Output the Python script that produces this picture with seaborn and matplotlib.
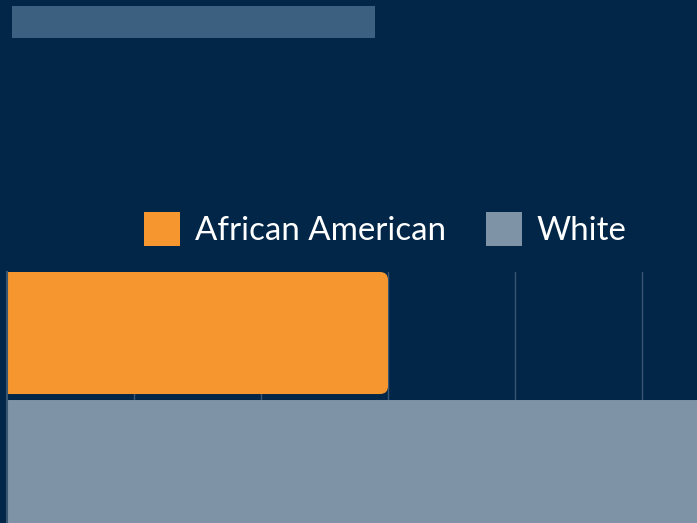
import matplotlib
matplotlib.use('Agg')
import matplotlib.pyplot as plt
import seaborn as sns
import pandas as pd
from matplotlib.patches import FancyBboxPatch, Rectangle

# data (one category, two groups; white bar runs off the right edge)
groups = ['African American', 'White']
values = [30, 60]
category = ['All', 'All']
palette = ['#f5962f', '#7f93a7']

df = pd.DataFrame({'cat': category, 'group': groups, 'value': values})

bg = '#012647'
grid_col = '#3b5673'
sns.set_style('dark', {'axes.facecolor': bg, 'figure.facecolor': bg})
plt.rcParams['font.family'] = ['Lato', 'DejaVu Sans']

fig = plt.figure(figsize=(6.97, 5.23), dpi=100)
ax = fig.add_axes([7 / 697, 0, 690 / 697, 251 / 523])

sns.barplot(data=df, y='cat', x='value', hue='group', palette=palette,
            orient='h', width=0.8, ax=ax, saturation=1)

handles, labels = ax.get_legend_handles_labels()
if ax.get_legend() is not None:
    ax.get_legend().remove()
for h in handles:
    h.set_edgecolor('none')

ax.set_xlim(0, 54.33)
ax.set_ylim(0.403, -0.4)

# swap plain bars for rounded ones, small gap between them
gap = 0.0096
for p in list(ax.patches):
    x, y = p.get_x(), p.get_y()
    w, h = p.get_width(), p.get_height()
    c = p.get_facecolor()
    p.remove()
    if y < 0:
        y0, hh = y, h - gap          # top bar: gap below
    else:
        y0, hh = y + gap, h + 0.05   # bottom bar: gap above, runs off the bottom
    ax.add_patch(FancyBboxPatch(
        (x - 2, y0), w + 2, hh,
        boxstyle='round,pad=0,rounding_size=0.63',
        mutation_aspect=0.0406, facecolor=c, edgecolor='none', zorder=2))

ax.set_xticks([10, 20, 30, 40, 50])
ax.grid(axis='x', color=grid_col, lw=1)
ax.grid(axis='y', visible=False)
ax.set_axisbelow(True)
ax.tick_params(length=0, labelbottom=False, labelleft=False)
ax.set_xlabel('')
ax.set_ylabel('')
for s in ['top', 'right', 'bottom']:
    ax.spines[s].set_visible(False)
ax.spines['left'].set_visible(True)
ax.spines['left'].set_color(grid_col)
ax.spines['left'].set_linewidth(1.5)

# title placeholder bar
fig.patches.append(Rectangle((12 / 697, 1 - 38 / 523), 363 / 697, 32 / 523,
                             transform=fig.transFigure, facecolor='#3b6080',
                             edgecolor='none'))

fig.legend(handles, labels, loc='upper left',
           bbox_to_anchor=(144 / 697, 1 - 212 / 523), ncol=2, frameon=False,
           fontsize=23.8, handlelength=1.09, handleheight=1.2,
           handletextpad=0.45, columnspacing=1.21, borderpad=0,
           borderaxespad=0, labelcolor='white')

fig.savefig('out.png', dpi=100, facecolor=bg)
